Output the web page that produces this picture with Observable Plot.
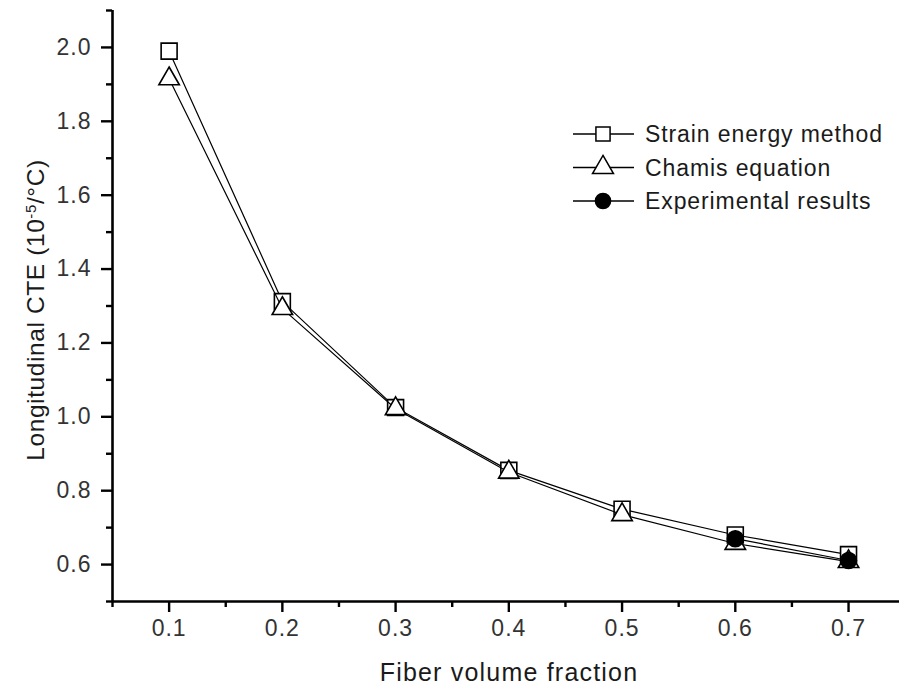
<!DOCTYPE html>
<html>
<head>
<meta charset="utf-8">
<script src="https://cdn.jsdelivr.net/npm/d3@7"></script>
<script src="https://cdn.jsdelivr.net/npm/@observablehq/plot@0.6"></script>
<style>
  html, body { margin: 0; padding: 0; background: #fff; }
  #chart { position: relative; width: 899px; height: 688px; }
  svg { font-family: "Liberation Sans", Arial, sans-serif; }
  #chart svg g[aria-label*="tick label"] text { font-size: 23px !important; letter-spacing: 1px; fill: #333; }
</style>
</head>
<body>
<div id="chart"></div>
<script>
// ---- data ----
const fiberFraction = [0.1, 0.2, 0.3, 0.4, 0.5, 0.6, 0.7];
const strainEnergy = [1.99, 1.312, 1.025, 0.855, 0.75, 0.68, 0.627];
const chamisEq = [1.915, 1.293, 1.022, 0.85, 0.735, 0.657, 0.608];
const expFraction = [0.6, 0.7];
const expResults = [0.67, 0.611];

const xMajorTicks = [0.1, 0.2, 0.3, 0.4, 0.5, 0.6, 0.7];
const xMinorTicks = [0.05, 0.15, 0.25, 0.35, 0.45, 0.55, 0.65];
const yMajorTicks = [0.6, 0.8, 1.0, 1.2, 1.4, 1.6, 1.8, 2.0];
const yMinorTicks = [0.5, 0.7, 0.9, 1.1, 1.3, 1.5, 1.7, 1.9, 2.1];

const seriesNames = ["Strain energy method", "Chamis equation", "Experimental results"];
const xTitle = "Fiber volume fraction";

const strainRows = fiberFraction.map((x, i) => ({x, y: strainEnergy[i]}));
const chamisRows = fiberFraction.map((x, i) => ({x, y: chamisEq[i]}));
const expRows = expFraction.map((x, i) => ({x, y: expResults[i]}));

const fmt = d3.format(".1f");
const tickColor = "#333";

const plot = Plot.plot({
  width: 899,
  height: 688,
  marginLeft: 112,
  marginTop: 10,
  marginBottom: 87,
  marginRight: 0,
  x: {domain: [0.05, 0.745]},
  y: {domain: [0.5, 2.1]},
  style: {fontFamily: "'Liberation Sans', Arial, sans-serif", background: "white"},
  marks: [
    Plot.axisX(xMinorTicks, {tickSize: 6, strokeWidth: 2.4, tickFormat: () => "", label: null}),
    Plot.axisX(xMajorTicks, {tickSize: 11, tickPadding: 7, strokeWidth: 2.4, tickFormat: fmt, fontSize: 23, fill: tickColor, label: null}),
    Plot.axisY(yMinorTicks, {tickSize: 6, strokeWidth: 2.4, tickFormat: () => "", label: null}),
    Plot.axisY(yMajorTicks, {tickSize: 11, tickPadding: 10, strokeWidth: 2.4, tickFormat: fmt, fontSize: 23, fill: tickColor, label: null}),
    Plot.ruleX([0.05], {stroke: "black", strokeWidth: 2.6}),
    Plot.ruleY([0.5], {stroke: "black", strokeWidth: 2.6}),
    Plot.line(strainRows, {x: "x", y: "y", stroke: "black", strokeWidth: 1.2}),
    Plot.dot(strainRows, {x: "x", y: "y", symbol: "square", r: 9, fill: "white", stroke: "black", strokeWidth: 1.6}),
    Plot.line(chamisRows, {x: "x", y: "y", stroke: "black", strokeWidth: 1.2}),
    Plot.dot(chamisRows, {x: "x", y: "y", symbol: "triangle", r: 7.6, fill: "white", stroke: "black", strokeWidth: 1.6}),
    Plot.line(expRows, {x: "x", y: "y", stroke: "black", strokeWidth: 1.2}),
    Plot.dot(expRows, {x: "x", y: "y", symbol: "circle", r: 8, fill: "black", stroke: "black"})
  ]
});

document.getElementById("chart").appendChild(plot);

const svg = d3.select(plot);

// x-axis title
svg.append("text")
  .attr("x", 509).attr("y", 681)
  .attr("text-anchor", "middle")
  .attr("font-size", 25)
  .attr("letter-spacing", "1.2px")
  .attr("fill", "#1a1a1a")
  .text(xTitle);

// y-axis title with superscript
const yt = svg.append("text")
  .attr("transform", "translate(35,310) rotate(-90)")
  .attr("text-anchor", "middle")
  .attr("dy", "0.36em")
  .attr("font-size", 24.5)
  .attr("letter-spacing", "0.6px")
  .attr("fill", "#1a1a1a");
yt.append("tspan").text("Longitudinal CTE (10");
yt.append("tspan").attr("baseline-shift", "super").attr("font-size", 15).text("-5");
yt.append("tspan").text("/°C)");

// legend
const legendSymbols = [d3.symbolSquare, d3.symbolTriangle, d3.symbolCircle];
const legendSizes = [200, 190, 180];
const legendFill = ["white", "white", "black"];
const lg = svg.append("g");
seriesNames.forEach((name, i) => {
  const yy = 134 + i * 33.5;
  lg.append("line").attr("x1", 573).attr("x2", 634).attr("y1", yy).attr("y2", yy)
    .attr("stroke", "black").attr("stroke-width", 1.4);
  lg.append("path").attr("d", d3.symbol(legendSymbols[i], legendSizes[i])())
    .attr("transform", `translate(603,${yy})`)
    .attr("fill", legendFill[i]).attr("stroke", "black").attr("stroke-width", 1.5);
  lg.append("text").attr("x", 645).attr("y", yy).attr("dy", "0.36em")
    .attr("text-anchor", "start")
    .attr("font-size", 23).attr("letter-spacing", "0.9px")
    .attr("fill", "#1a1a1a").text(name);
});
</script>
</body>
</html>
